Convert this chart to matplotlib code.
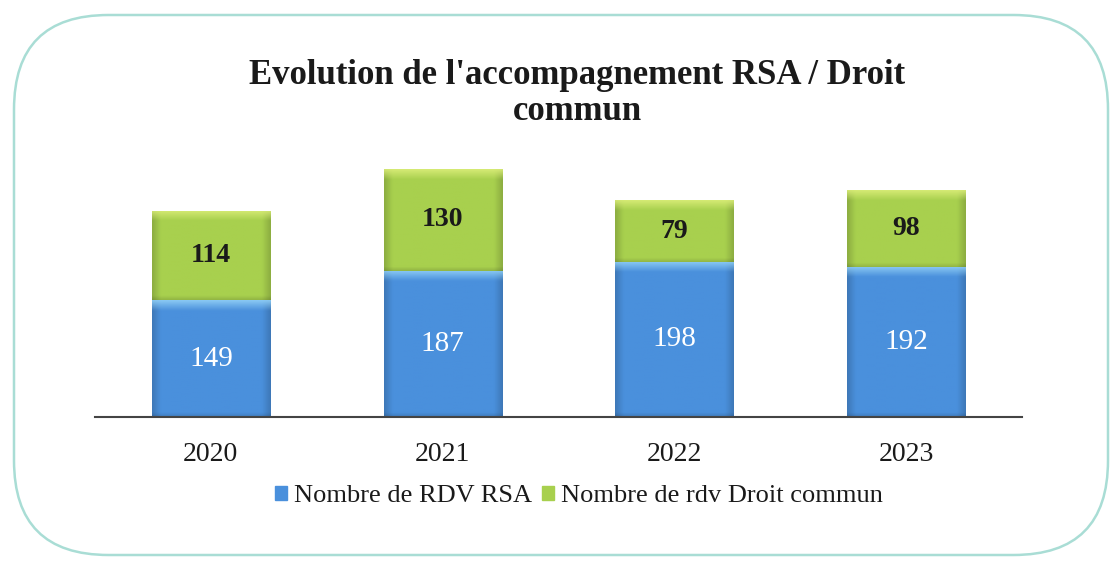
import numpy as np
import matplotlib
matplotlib.use("Agg")
import matplotlib.pyplot as plt
from matplotlib.patches import FancyBboxPatch
from matplotlib.colors import to_rgb

years = ["2020", "2021", "2022", "2023"]
rdv_rsa = [149, 187, 198, 192]
rdv_droit_commun = [114, 130, 79, 98]
series_names = ["Nombre de RDV RSA", "Nombre de rdv Droit commun"]
title = "Evolution de l'accompagnement RSA / Droit\ncommun"

FONT = "Liberation Serif"
BLUE = "#4a90dc"
GREEN = "#a8d04e"

fig = plt.figure(figsize=(11.11, 5.63), dpi=100)
fig.patch.set_facecolor("white")

# rounded border
border = FancyBboxPatch((14 / 1111, 8 / 563), 1094 / 1111, 540 / 563,
                        boxstyle="round,pad=0,rounding_size=0.085",
                        transform=fig.transFigure, fill=False,
                        edgecolor="#a9ddd5", linewidth=1.8,
                        mutation_aspect=1111 / 563)
fig.patches.append(border)

ax = fig.add_axes([95 / 1111, (563 - 417) / 563, 927 / 1111, 274 / 563])
x = np.arange(len(years))
width = 0.51
b1 = ax.bar(x, rdv_rsa, width, color=BLUE, label=series_names[0], zorder=2)
b2 = ax.bar(x, rdv_droit_commun, width, bottom=rdv_rsa, color=GREEN,
            label=series_names[1], zorder=2)


def shade(patch, base, light):
    bx, by = patch.get_x(), patch.get_y()
    bw, bh = patch.get_width(), patch.get_height()
    nx, ny = 80, 80
    u = np.linspace(0, 1, nx)
    v = np.linspace(0, 1, ny)  # 0 bottom, 1 top
    U, V = np.meshgrid(u, v)
    c0 = np.array(to_rgb(base))
    c1 = np.array(to_rgb(light))
    edge = np.minimum(U, 1 - U)
    hfac = 0.84 + 0.16 * np.clip(edge / 0.07, 0, 1)
    img = c0[None, None, :] * hfac[..., None]
    bevel = min(10.0 / (bh * 0.783), 0.5)
    top = np.clip((V - (1 - bevel)) / bevel, 0, 1)
    img = img * (1 - top[..., None] * 0.85) + c1[None, None, :] * top[..., None] * 0.85
    bot = np.clip(1 - V / min(4.0 / (bh * 0.783), 0.5), 0, 1)
    img = img * (1 - 0.12 * bot[..., None])
    img = np.clip(img, 0, 1)
    im = ax.imshow(img, extent=(bx, bx + bw, by, by + bh), origin="lower",
                   aspect="auto", zorder=2.5, interpolation="bilinear")
    im.set_clip_path(patch)


for p in b1:
    shade(p, BLUE, "#92d0f6")
for p in b2:
    shade(p, GREEN, "#dcee7a")

for i in range(len(years)):
    ax.text(x[i], rdv_rsa[i] / 2, str(rdv_rsa[i]), ha="center", va="center",
            color="white", fontsize=21, family=FONT, zorder=4)
    ax.text(x[i], rdv_rsa[i] + rdv_droit_commun[i] / 2, str(rdv_droit_commun[i]),
            ha="center", va="center", color="#1a1a1a", fontsize=20,
            fontweight="bold", family=FONT, zorder=4)

ax.set_xlim(-0.5, 3.5)
ax.set_ylim(0, 350)
ax.set_xticks(x)
ax.set_xticklabels(years, fontsize=20, family=FONT, color="#1a1a1a")
ax.tick_params(axis="x", length=0, pad=18)
ax.set_yticks([])
for s in ["top", "right", "left"]:
    ax.spines[s].set_visible(False)
ax.spines["bottom"].set_color("#444444")
ax.spines["bottom"].set_linewidth(1.5)
ax.set_facecolor("none")

fig.text(577 / 1111, 1 - 93 / 563, title, ha="center", va="center",
         fontsize=25, fontweight="bold", family=FONT, color="#1a1a1a",
         linespacing=1.12)

leg = fig.legend(handles=[b1, b2], labels=series_names, loc="center",
                 bbox_to_anchor=(579 / 1111, 1 - 496 / 563), ncol=2,
                 frameon=False, prop={"family": FONT, "size": 19},
                 handlelength=0.45, handleheight=0.45, handletextpad=0.25,
                 columnspacing=0.4)
for t in leg.get_texts():
    t.set_color("#1a1a1a")
for h, c in zip(leg.legend_handles, [BLUE, GREEN]):
    h.set_color(c)

fig.savefig("out.png", dpi=100, facecolor="white")
